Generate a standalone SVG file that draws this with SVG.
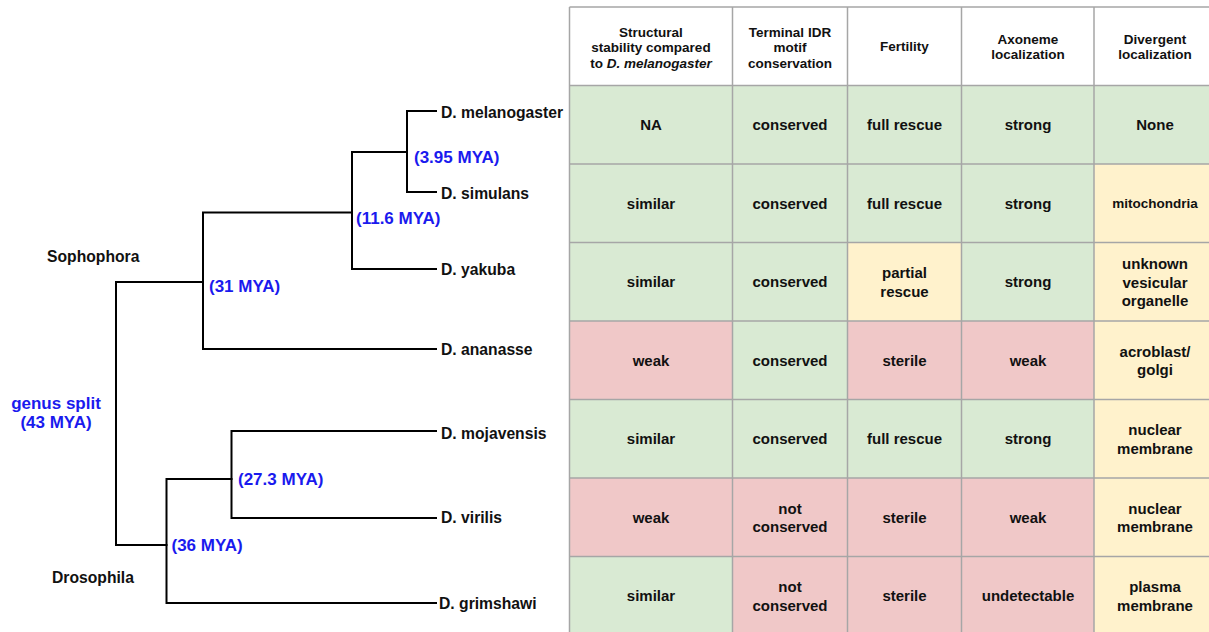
<svg xmlns="http://www.w3.org/2000/svg" width="1209" height="632" viewBox="0 0 1209 632">
<style>
.bg{fill:#ffffff}
.br{stroke:#000;stroke-width:2;fill:none;stroke-linecap:square;stroke-linejoin:miter}
.sp{font-family:"Liberation Sans",Arial,sans-serif;font-weight:bold;font-size:15.7px;fill:#111}
.age{font-family:"Liberation Sans",Arial,sans-serif;font-weight:bold;font-size:17px;fill:#1a1aee}
.g{fill:#d9ead3}.r{fill:#f0c8c8}.y{fill:#fff2cc}.w{fill:#ffffff}
.grid{stroke:#a6a6a6;stroke-width:1.5;fill:none}
.hd{font-family:"Liberation Sans",Arial,sans-serif;font-weight:bold;font-size:13.5px;fill:#111;text-anchor:middle}
.c{font-family:"Liberation Sans",Arial,sans-serif;font-weight:bold;font-size:15px;fill:#111;text-anchor:middle}
.cs{font-family:"Liberation Sans",Arial,sans-serif;font-weight:bold;font-size:13.5px;fill:#111;text-anchor:middle}
</style>
<rect class="bg" x="0" y="0" width="1209" height="632"/>

<g id="connectors">
<path class="br" d="M436 111 H407 V192 H436"/>
<path class="br" d="M407 152 H352 V269 H436"/>
<path class="br" d="M352 212.5 H203 V349 H436"/>
<path class="br" d="M203 282 H116 V545 H166.5"/>
<path class="br" d="M436 431 H231.5 V518 H436"/>
<path class="br" d="M231.5 479 H166.5 V603 H436"/>
</g>

<g id="tree-labels">
<g id="leaf-melanogaster"><text class="sp" x="441" y="117.5">D. melanogaster</text></g>
<g id="leaf-simulans"><text class="sp" x="441" y="198.5">D. simulans</text></g>
<g id="leaf-yakuba"><text class="sp" x="441" y="274.5">D. yakuba</text></g>
<g id="leaf-ananasse"><text class="sp" x="441" y="354.5">D. ananasse</text></g>
<g id="leaf-mojavensis"><text class="sp" x="441" y="439">D. mojavensis</text></g>
<g id="leaf-virilis"><text class="sp" x="441" y="523">D. virilis</text></g>
<g id="leaf-grimshawi"><text class="sp" x="439" y="608.5">D. grimshawi</text></g>
<g id="clade-sophophora"><text class="sp" x="47" y="261.5">Sophophora</text></g>
<g id="clade-drosophila"><text class="sp" x="52" y="582.5">Drosophila</text></g>
<g id="node-395"><text class="age" x="414" y="162.7">(3.95 MYA)</text></g>
<g id="node-116"><text class="age" x="356" y="223.7">(11.6 MYA)</text></g>
<g id="node-31"><text class="age" x="209" y="292">(31 MYA)</text></g>
<g id="node-43"><text class="age" x="56" y="408.7" text-anchor="middle">genus split</text><text class="age" x="56" y="428.3" text-anchor="middle">(43 MYA)</text></g>
<g id="node-273"><text class="age" x="238" y="485.3">(27.3 MYA)</text></g>
<g id="node-36"><text class="age" x="171.5" y="551">(36 MYA)</text></g>
</g>

<g id="table">
<!-- header row -->
<rect class="w" x="569.5" y="7" width="650" height="78.5"/>
<!-- row 1 -->
<rect class="g" x="569.5" y="85.5" width="650" height="78.5"/>
<!-- row 2 -->
<rect class="g" x="569.5" y="164" width="525" height="78.5"/>
<rect class="y" x="1094" y="164" width="125" height="78.5"/>
<!-- row 3 -->
<rect class="g" x="569.5" y="242.5" width="278" height="78.5"/>
<rect class="y" x="847.5" y="242.5" width="114" height="78.5"/>
<rect class="g" x="961.5" y="242.5" width="132.5" height="78.5"/>
<rect class="y" x="1094" y="242.5" width="125" height="78.5"/>
<!-- row 4 -->
<rect class="r" x="569.5" y="321" width="163" height="78.5"/>
<rect class="g" x="732.5" y="321" width="115" height="78.5"/>
<rect class="r" x="847.5" y="321" width="246.5" height="78.5"/>
<rect class="y" x="1094" y="321" width="125" height="78.5"/>
<!-- row 5 -->
<rect class="g" x="569.5" y="399.5" width="524.5" height="78.5"/>
<rect class="y" x="1094" y="399.5" width="125" height="78.5"/>
<!-- row 6 -->
<rect class="r" x="569.5" y="478" width="524.5" height="78.5"/>
<rect class="y" x="1094" y="478" width="125" height="78.5"/>
<!-- row 7 -->
<rect class="g" x="569.5" y="556.5" width="163" height="78.5"/>
<rect class="r" x="732.5" y="556.5" width="361.5" height="78.5"/>
<rect class="y" x="1094" y="556.5" width="125" height="78.5"/>

<path class="grid" d="M569.5 7 H1215 M569.5 85.5 H1215 M569.5 164 H1215 M569.5 242.5 H1215 M569.5 321 H1215 M569.5 399.5 H1215 M569.5 478 H1215 M569.5 556.5 H1215 M569.5 7 V640 M732.5 7 V640 M847.5 7 V640 M961.5 7 V640 M1094 7 V640"/>

<g id="header">
<text class="hd" x="651" y="36.5">Structural</text>
<text class="hd" x="651" y="52">stability compared</text>
<text class="hd" x="651" y="67.5">to <tspan font-style="italic">D. melanogaster</tspan></text>
<text class="hd" x="790" y="36.5">Terminal IDR</text>
<text class="hd" x="790" y="52">motif</text>
<text class="hd" x="790" y="67.5">conservation</text>
<text class="hd" x="904.5" y="51">Fertility</text>
<text class="hd" x="1028" y="43.5">Axoneme</text>
<text class="hd" x="1028" y="59">localization</text>
<text class="hd" x="1155" y="43.5">Divergent</text>
<text class="hd" x="1155" y="59">localization</text>
</g>

<g id="row-melanogaster">
<text class="c" x="651" y="130.2">NA</text>
<text class="c" x="790" y="130.2">conserved</text>
<text class="c" x="904.5" y="130.2">full rescue</text>
<text class="c" x="1028" y="130.2">strong</text>
<text class="c" x="1155" y="130.2">None</text>
</g>
<g id="row-simulans">
<text class="c" x="651" y="208.7">similar</text>
<text class="c" x="790" y="208.7">conserved</text>
<text class="c" x="904.5" y="208.7">full rescue</text>
<text class="c" x="1028" y="208.7">strong</text>
<text class="cs" x="1155" y="208">mitochondria</text>
</g>
<g id="row-yakuba">
<text class="c" x="651" y="287.2">similar</text>
<text class="c" x="790" y="287.2">conserved</text>
<text class="c" x="904.5" y="278">partial</text>
<text class="c" x="904.5" y="296.5">rescue</text>
<text class="c" x="1028" y="287.2">strong</text>
<text class="c" x="1155" y="269">unknown</text>
<text class="c" x="1155" y="287.5">vesicular</text>
<text class="c" x="1155" y="306">organelle</text>
</g>
<g id="row-ananasse">
<text class="c" x="651" y="365.7">weak</text>
<text class="c" x="790" y="365.7">conserved</text>
<text class="c" x="904.5" y="365.7">sterile</text>
<text class="c" x="1028" y="365.7">weak</text>
<text class="c" x="1155" y="356.5">acroblast/</text>
<text class="c" x="1155" y="375">golgi</text>
</g>
<g id="row-mojavensis">
<text class="c" x="651" y="444.2">similar</text>
<text class="c" x="790" y="444.2">conserved</text>
<text class="c" x="904.5" y="444.2">full rescue</text>
<text class="c" x="1028" y="444.2">strong</text>
<text class="c" x="1155" y="435">nuclear</text>
<text class="c" x="1155" y="453.5">membrane</text>
</g>
<g id="row-virilis">
<text class="c" x="651" y="522.7">weak</text>
<text class="c" x="790" y="513.5">not</text>
<text class="c" x="790" y="532">conserved</text>
<text class="c" x="904.5" y="522.7">sterile</text>
<text class="c" x="1028" y="522.7">weak</text>
<text class="c" x="1155" y="513.5">nuclear</text>
<text class="c" x="1155" y="532">membrane</text>
</g>
<g id="row-grimshawi">
<text class="c" x="651" y="601.2">similar</text>
<text class="c" x="790" y="592">not</text>
<text class="c" x="790" y="610.5">conserved</text>
<text class="c" x="904.5" y="601.2">sterile</text>
<text class="c" x="1028" y="601.2">undetectable</text>
<text class="c" x="1155" y="592">plasma</text>
<text class="c" x="1155" y="610.5">membrane</text>
</g>
</g>
</svg>
